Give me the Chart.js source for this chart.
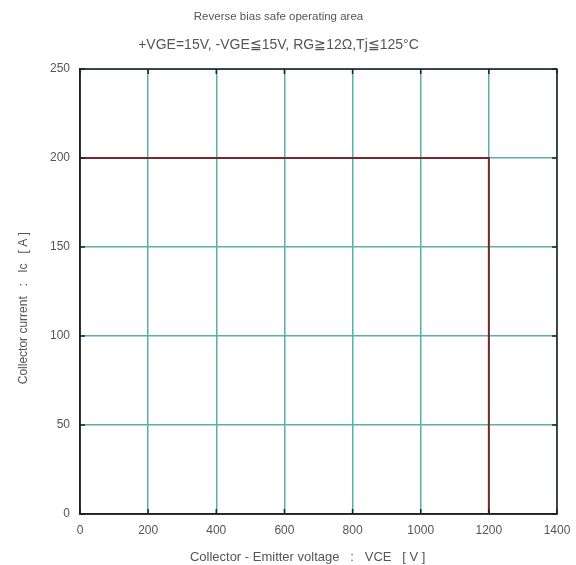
<!DOCTYPE html>
<html><head><meta charset="utf-8">
<script src="https://cdn.jsdelivr.net/npm/chart.js@4/dist/chart.umd.min.js"></script>
<style>html,body{margin:0;padding:0;background:#fff}#wrap{width:576px;height:565px}</style>
</head><body><div id="wrap"><canvas id="c" width="576" height="565"></canvas></div>
<script>
const titleText = "Reverse bias safe operating area";
const subtitleText = "+VGE=15V, -VGE\u226615V, RG\u226712\u03A9,Tj\u2266125\u00B0C";
const xTitle = "Collector - Emitter voltage   :   VCE   [ V ]" + "\u00A0".repeat(6);
const yTitle = "Collector current   :   Ic   [ A ]" + "\u00A0".repeat(10);
const vce = [0, 1200, 1200];
const ic = [200, 200, 0];
const xMax = 1400, yMax = 250;

const txt = '#555';
const font = "'Liberation Sans', Arial, sans-serif";
new Chart(document.getElementById('c'), {
  type: 'scatter',
  data: { datasets: [{
    data: vce.map((x, i) => ({x: x, y: ic[i]})),
    showLine: true, borderColor: '#742828', borderWidth: 2,
    pointRadius: 0, fill: false, tension: 0
  }]},
  options: {
    responsive: false, animation: false,
    layout: { padding: { left: 0, right: 19, top: 0, bottom: 0 } },
    plugins: {
      legend: { display: false }, tooltip: { enabled: false },
      title: { display: true, text: titleText, color: txt,
        font: { family: font, size: 11.5, weight: 'normal', lineHeight: 1.2 },
        padding: { top: 10, bottom: 5 } },
      subtitle: { display: true, text: subtitleText, color: txt,
        font: { family: font, size: 14, weight: 'normal', lineHeight: 1.2 },
        padding: { top: 8, bottom: 15.5 } }
    },
    scales: {
      x: { type: 'linear', min: 0, max: xMax,
        afterFit: s => { s.height = 51; s.paddingRight = 0; s.paddingLeft = 0; },
        ticks: { stepSize: 200, color: txt, padding: 9, maxRotation: 0,
          font: { family: font, size: 12 }, callback: v => String(v) },
        grid: { color: '#5aaeae', lineWidth: 1.5, drawTicks: false },
        border: { color: '#222', width: 1.5 },
        title: { display: true, text: xTitle, color: txt,
          font: { family: font, size: 13 }, padding: { top: 6, bottom: 0 } } },
      y: { type: 'linear', min: 0, max: yMax,
        afterFit: s => { s.width = 80; s.paddingTop = 0; s.paddingBottom = 0; },
        ticks: { stepSize: 50, color: txt, padding: 10,
          font: { family: font, size: 12 }, callback: v => String(v) },
        grid: { color: '#5aaeae', lineWidth: 1.5, drawTicks: false },
        border: { color: '#222', width: 1.5 },
        title: { display: true, text: yTitle, color: txt,
          font: { family: font, size: 12 }, padding: { top: 16, bottom: 6 } } }
    }
  },
  plugins: [{
    id: 'frame',
    afterDraw(chart) {
      const a = chart.chartArea, c = chart.ctx;
      const xs = chart.scales.x, ys = chart.scales.y;
      c.save(); c.strokeStyle = '#222'; c.lineWidth = 1.5;
      c.strokeRect(a.left, a.top, a.right - a.left, a.bottom - a.top);
      c.beginPath();
      xs.ticks.forEach(t => { const p = xs.getPixelForValue(t.value);
        c.moveTo(p, a.bottom); c.lineTo(p, a.bottom - 5);
        c.moveTo(p, a.top); c.lineTo(p, a.top + 5); });
      ys.ticks.forEach(t => { const p = ys.getPixelForValue(t.value);
        c.moveTo(a.left, p); c.lineTo(a.left + 5, p);
        c.moveTo(a.right, p); c.lineTo(a.right - 5, p); });
      c.stroke();
      c.restore();
    }
  }]
});
</script></body></html>
